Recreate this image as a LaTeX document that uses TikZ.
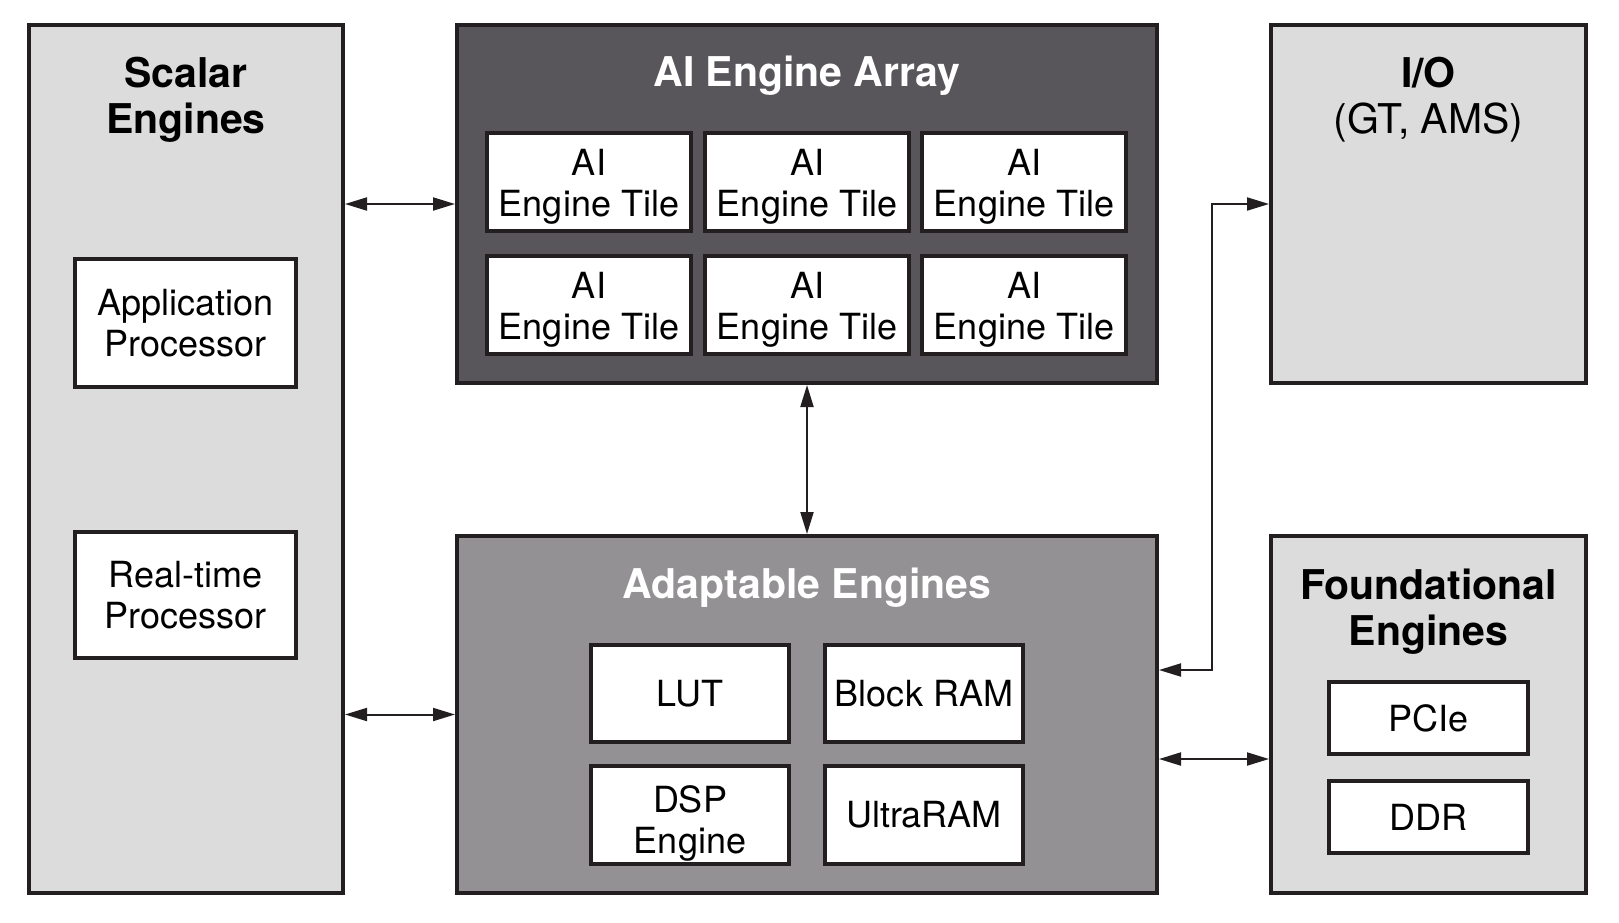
\documentclass[tikz,border=0pt]{standalone}
\usepackage{fontspec}
\setmainfont{TeX Gyre Heros}
\usetikzlibrary{arrows.meta}
\definecolor{edge}{HTML}{231F20}
\definecolor{lightfill}{HTML}{DCDCDC}
\definecolor{darkfill}{HTML}{58565A}
\definecolor{midfill}{HTML}{939193}
\tikzset{
  panel/.style = {rectangle, draw=edge, line width=4pt, inner sep=0pt},
  unit/.style  = {rectangle, draw=edge, fill=white, line width=4pt, inner sep=0pt,
                  align=center, font=\fontsize{36}{41}\selectfont},
  tile/.style  = {unit, minimum width=204pt, minimum height=98pt, text height=77pt},
  title/.style = {align=center, font=\fontsize{41}{46}\selectfont\bfseries},
  link/.style  = {{Triangle[length=22pt,width=13pt]}-{Triangle[length=22pt,width=13pt]},
                  line width=2pt, draw=edge},
}
\begin{document}
\begin{tikzpicture}[x=1pt, y=-1pt]
      \useasboundingbox (0,0) rectangle (1619,922);

      % outer panels
      \node[panel, fill=lightfill, minimum width=314pt, minimum height=868pt] (scalar) at (186, 459)    {};
      \node[panel, fill=darkfill,  minimum width=700pt, minimum height=358pt] (array)  at (807, 204)    {};
      \node[panel, fill=lightfill, minimum width=315pt, minimum height=358pt] (io)     at (1428.5, 204) {};
      \node[panel, fill=midfill,   minimum width=700pt, minimum height=357pt] (adapt)  at (807, 714.5)  {};
      \node[panel, fill=lightfill, minimum width=315pt, minimum height=357pt] (found)  at (1428.5, 714.5) {};

      % titles
      \node[title]             (scalartitle) at (186, 99.5)    {Scalar\\Engines};
      \node[title, text=white] (arraytitle)  at (807, 76)      {AI Engine Array};
      \node[title]             (iotitle)     at (1428.5, 99.5) {I/O\\\mdseries(GT, AMS)};
      \node[title, text=white] (adapttitle)  at (807, 588)     {Adaptable Engines};
      \node[title]             (foundtitle)  at (1428.5, 611.5) {Foundational\\Engines};

      % scalar engines
      \node[unit, minimum width=221pt, minimum height=128pt] (app) at (185.5, 323) {Application\\Processor};
      \node[unit, minimum width=221pt, minimum height=126pt] (rt)  at (185.5, 595) {Real-time\\Processor};

      % AI engine tiles
      \node[tile] (tile11) at (589, 182)    {AI\\Engine Tile};
      \node[tile] (tile12) at (807, 182)    {AI\\Engine Tile};
      \node[tile] (tile13) at (1024, 182)   {AI\\Engine Tile};
      \node[tile] (tile21) at (589, 304.5)  {AI\\Engine Tile};
      \node[tile] (tile22) at (807, 304.5)  {AI\\Engine Tile};
      \node[tile] (tile23) at (1024, 304.5) {AI\\Engine Tile};

      % adaptable engines
      \node[unit, minimum width=198pt, minimum height=97pt] (lut)   at (690, 693.5) {LUT};
      \node[unit, minimum width=198pt, minimum height=97pt] (bram)  at (924, 693.5) {Block RAM};
      \node[unit, minimum width=198pt, minimum height=98pt, text height=85pt] (dsp) at (690, 815) {DSP\\Engine};
      \node[unit, minimum width=198pt, minimum height=98pt] (uram)  at (924, 815)   {UltraRAM};

      % foundational engines
      \node[unit, minimum width=199pt, minimum height=72pt] (pcie) at (1428.5, 718) {PCIe};
      \node[unit, minimum width=199pt, minimum height=72pt] (ddr)  at (1428.5, 817) {DDR};

      % connections
      \draw[link] (scalar.east |- array.west) -- (array.west);
      \draw[link] (scalar.east |- adapt.west) -- (adapt.west);
      \draw[link] (array.south) -- (adapt.north);
      \draw[link] ([yshift=44.5pt]adapt.east) -| ([xshift=-57pt]io.west) -- (io.west);
      \draw[link] ([yshift=-44.5pt]adapt.east) -- ([yshift=-44.5pt]found.west);
    \end{tikzpicture}
\end{document}
